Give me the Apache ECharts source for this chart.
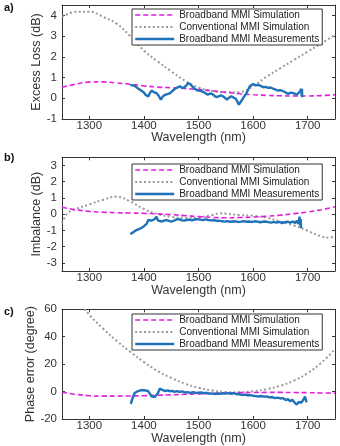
<!DOCTYPE html>
<html><head><meta charset="utf-8">
<script src="https://cdn.jsdelivr.net/npm/echarts@6/dist/echarts.min.js"></script>
<style>html,body{margin:0;padding:0;background:#fff}#c{width:340px;height:446px}</style>
</head><body><div id="c"></div>
<script>
// ---- data ----
const wlSim = [1250,1275,1300,1325,1350,1375,1400,1425,1450,1475,1500,1525,1550,1575,1600,1625,1650,1675,1700,1725,1750];
// panel a: excess loss (dB)
const lossBroadSim = [0.53,0.68,0.78,0.79,0.74,0.68,0.60,0.54,0.51,0.47,0.42,0.36,0.29,0.22,0.17,0.14,0.12,0.11,0.11,0.13,0.17];
const lossConvSim  = [3.93,4.17,4.18,3.93,3.60,3.00,2.30,1.78,1.30,0.85,0.52,0.35,0.29,0.30,0.58,1.05,1.45,1.85,2.25,2.65,3.05];
const lossMeasWl = [1375,1380,1384,1388,1393,1396,1399,1403,1406,1408,1411,1414,1418,1423,1427,1431,1435,1439,1443,1448,1452,1457,1461,1466,1470,1474,1478,1481,1485,1488,1491,1494,1498,1501,1505,1509,1513,1517,1521,1525,1529,1533,1538,1542,1547,1552,1556,1560,1564,1568,1571,1574,1577,1580,1584,1588,1591,1594,1597,1600,1605,1609,1614,1619,1623,1628,1632,1637,1641,1646,1650,1655,1660,1664,1669,1674,1677,1680,1683,1686,1688,1689,1689.5,1690];
const lossMeas = [0.65,0.62,0.58,0.50,0.41,0.35,0.30,0.17,0.12,0.08,0.25,0.37,0.30,0.25,0.12,-0.07,0.10,0.17,0.20,0.25,0.35,0.46,0.52,0.58,0.50,0.53,0.62,0.74,0.68,0.63,0.50,0.41,0.38,0.34,0.35,0.30,0.24,0.17,0.23,0.21,0.12,0.05,0.10,0.14,0.05,-0.07,0.03,0.10,0.04,-0.02,-0.15,-0.31,-0.18,-0.07,0.10,0.25,0.42,0.58,0.65,0.69,0.62,0.65,0.60,0.53,0.55,0.50,0.52,0.46,0.42,0.37,0.40,0.34,0.28,0.21,0.27,0.25,0.20,0.17,0.25,0.34,0.46,0.10,0.45,0.05];
// panel b: imbalance (dB)
const imbBroadSim = [0.42,0.27,0.17,0.12,0.09,0.07,0.05,0.02,-0.03,-0.09,-0.15,-0.20,-0.22,-0.21,-0.18,-0.13,-0.06,0.03,0.13,0.27,0.45];
const imbConvWl  = [1250,1260,1275,1300,1325,1350,1375,1400,1425,1450,1475,1500,1525,1540,1550,1575,1600,1625,1650,1675,1700,1725,1740,1750];
const imbConvSim = [-0.56,0.05,0.30,0.60,0.88,1.08,0.78,0.32,0.00,-0.16,-0.23,-0.20,-0.05,0.05,0.03,-0.05,-0.10,-0.22,-0.45,-0.70,-1.02,-1.38,-1.45,-1.35];
const imbMeasWl = [1375,1379,1383,1387,1391,1395,1399,1402,1405,1408,1411,1414,1417,1420,1423,1426,1429,1433,1437,1442,1446,1450,1454,1458,1462,1466,1470,1474,1478,1483,1488,1493,1498,1503,1508,1513,1518,1523,1528,1533,1538,1543,1548,1553,1558,1563,1568,1573,1578,1583,1588,1593,1598,1603,1608,1613,1618,1623,1628,1633,1638,1643,1648,1653,1658,1663,1668,1673,1677,1680,1683,1685,1686,1687,1688];
const imbMeas = [-1.22,-1.15,-1.05,-0.97,-0.92,-0.85,-0.77,-0.72,-0.60,-0.36,-0.45,-0.40,-0.46,-0.30,-0.15,-0.40,-0.52,-0.45,-0.40,-0.36,-0.42,-0.46,-0.42,-0.35,-0.31,-0.33,-0.38,-0.40,-0.36,-0.34,-0.38,-0.33,-0.31,-0.34,-0.37,-0.32,-0.36,-0.38,-0.36,-0.42,-0.40,-0.44,-0.46,-0.43,-0.47,-0.45,-0.44,-0.48,-0.46,-0.43,-0.47,-0.45,-0.48,-0.44,-0.46,-0.50,-0.47,-0.45,-0.49,-0.52,-0.48,-0.52,-0.47,-0.55,-0.50,-0.46,-0.52,-0.46,-0.55,-0.40,-0.60,-0.15,-0.70,-0.30,-0.87];
// panel c: phase error (degree)
const phBroadSim = [-0.5,-2.0,-3.0,-3.3,-3.3,-3.2,-3.0,-2.7,-2.4,-2.0,-1.7,-1.3,-1.0,-0.8,-0.7,-0.6,-0.6,-0.7,-0.8,-1.0,-1.2];
const phConvSim  = [80,68,56,46,37,29,21.5,15,10,5.8,2.8,0.8,-0.3,-0.5,0.2,1.8,4.2,8,13.5,21,31];
const phMeasWl = [1376,1379,1383,1387,1391,1395,1399,1403,1407,1411,1414,1417,1420,1423,1426,1429,1432,1436,1440,1444,1448,1452,1456,1460,1465,1470,1475,1480,1485,1490,1495,1500,1505,1510,1515,1520,1525,1530,1535,1540,1545,1550,1555,1560,1565,1570,1575,1580,1585,1590,1595,1600,1605,1610,1615,1620,1625,1630,1635,1640,1645,1650,1655,1660,1664,1668,1672,1676,1680,1684,1688,1692,1695,1697,1698];
const phMeas = [-9,-5,-1,-0.1,0.5,1.0,1.1,0.8,0.6,-1.5,-3.5,-4.8,-4,-2.5,-1,2.2,1.5,0.8,0.4,0.9,0.2,0.5,-0.2,0.4,-0.3,0.2,-0.6,-0.4,-0.9,-0.5,-1.0,-0.8,-0.7,-1.2,-0.9,-1.5,-1.3,-1.8,-1.4,-1.6,-1.2,-1.5,-1.1,-1.6,-1.2,-1.9,-2.0,-2.4,-2.2,-2.7,-2.6,-3.0,-3.3,-3.6,-3.2,-3.7,-3.6,-4.2,-4.0,-4.8,-4.4,-5.0,-4.8,-6.2,-5.5,-7.1,-6.0,-8.0,-9.5,-7.5,-8.2,-6.0,-3.6,-3.0,-7.9];

const names = ['Broadband MMI Simulation','Conventional MMI Simulation','Broadband MMI Measurements'];
const yNames = ['Excess Loss (dB)','Imbalance (dB)','Phase error (degree)'];
const yMin = [-1,-3.5,-20], yMax = [4.5,3.5,60];
const panelLabels = ['a)','b)','c)'];

// ---- styling ----
const FONT = 'Liberation Sans, Arial, Helvetica, sans-serif';
const AX = '#333';
const MAG = '#E21EE2', GRAY = '#9A9A9A', BLUE = '#1F72B8';
const magStyle = {color:MAG, width:1.6, type:[5,3]};
const grayStyle = {color:GRAY, width:2, type:[2,2.4]};
const blueStyle = {color:BLUE, width:2.4, type:'solid'};
const gridTops = [5,157.3,309.3], gridH = [114,113.7,114];
const yNameGap = [19,19,25];
const xNameGap = [12,13,13];
const legendTops = [9,164,314];

const zip = (xs, ys) => xs.map((x,i)=>[x, ys[i]]);
const plain = v => String(v);

const grid=[], xAxis=[], yAxis=[], series=[], legend=[], title=[];
for (let i=0;i<3;i++){
  grid.push({left:62, top:gridTops[i], width:273, height:gridH[i], show:false});
  const common = {type:'value', gridIndex:i, splitLine:{show:false},
    axisLine:{show:true, onZero:false, lineStyle:{color:AX, width:1}},
    axisTick:{show:true, inside:true, length:3, lineStyle:{color:AX}}};
  xAxis.push(Object.assign({}, common, {position:'bottom', min:1250, max:1750,
    axisLabel:{showMinLabel:false, showMaxLabel:false, fontSize:11.5, color:AX, fontFamily:FONT, margin:1, formatter:plain},
    name:'Wavelength (nm)', nameLocation:'middle', nameGap:xNameGap[i], nameMoveOverlap:false,
    nameTextStyle:{fontSize:12.5, color:AX, fontFamily:FONT}}));
  xAxis.push(Object.assign({}, common, {position:'top', min:1250, max:1750, axisLabel:{show:false}}));
  yAxis.push(Object.assign({}, common, {position:'left', min:yMin[i], max:yMax[i],
    axisLabel:{showMinLabel: i!==1, showMaxLabel: i===2, fontSize:11.5, color:AX, fontFamily:FONT, margin:5, formatter:plain},
    name:yNames[i], nameLocation:'middle', nameGap:yNameGap[i], nameRotate:90, nameMoveOverlap:false,
    nameTextStyle:{fontSize:12.5, color:AX, fontFamily:FONT}}));
  yAxis.push(Object.assign({}, common, {position:'right', min:yMin[i], max:yMax[i], axisLabel:{show:false}}));
  legend.push({orient:'vertical', left:132, top:legendTops[i], itemWidth:39, itemHeight:9, itemGap:2,
    padding:[1,3,1,2], borderColor:AX, borderWidth:1, borderRadius:0, backgroundColor:'#fff',
    selectedMode:false, textStyle:{fontSize:10, color:'#222', fontFamily:FONT},
    itemStyle:{opacity:0},
    data:[{name:names[0], lineStyle:magStyle, itemStyle:{opacity:0}},
          {name:names[1], lineStyle:grayStyle, itemStyle:{opacity:0}},
          {name:names[2], lineStyle:blueStyle, itemStyle:{opacity:0}}]});
  title.push({text:panelLabels[i], left:4, top:gridTops[i]-3+(i===1?-2:0), padding:0,
    textStyle:{fontSize:11, fontWeight:'bold', color:'#111', fontFamily:FONT}});
}
const simA=[lossBroadSim,imbBroadSim,phBroadSim];
const convX=[wlSim,imbConvWl,wlSim];
const convY=[lossConvSim,imbConvSim,phConvSim];
const measX=[lossMeasWl,imbMeasWl,phMeasWl];
const measY=[lossMeas,imbMeas,phMeas];
for (let i=0;i<3;i++){
  series.push({name:names[0], type:'line', xAxisIndex:2*i, yAxisIndex:2*i, data:zip(wlSim, simA[i]),
    showSymbol:false, symbol:'none', smooth:0.4, lineStyle:magStyle, itemStyle:{color:MAG}, z:3, clip:true});
  series.push({name:names[1], type:'line', xAxisIndex:2*i, yAxisIndex:2*i, data:zip(convX[i], convY[i]),
    showSymbol:false, symbol:'none', smooth:0.4, lineStyle:grayStyle, itemStyle:{color:GRAY}, z:2, clip:true});
  series.push({name:names[2], type:'line', xAxisIndex:2*i, yAxisIndex:2*i, data:zip(measX[i], measY[i]),
    showSymbol:false, symbol:'none', lineStyle:blueStyle, itemStyle:{color:BLUE}, z:4, clip:true});
}
const chart = echarts.init(document.getElementById('c'), null, {renderer:'canvas'});
chart.setOption({animation:false, backgroundColor:'#fff', title, grid, xAxis, yAxis, legend, series});
</script></body></html>
